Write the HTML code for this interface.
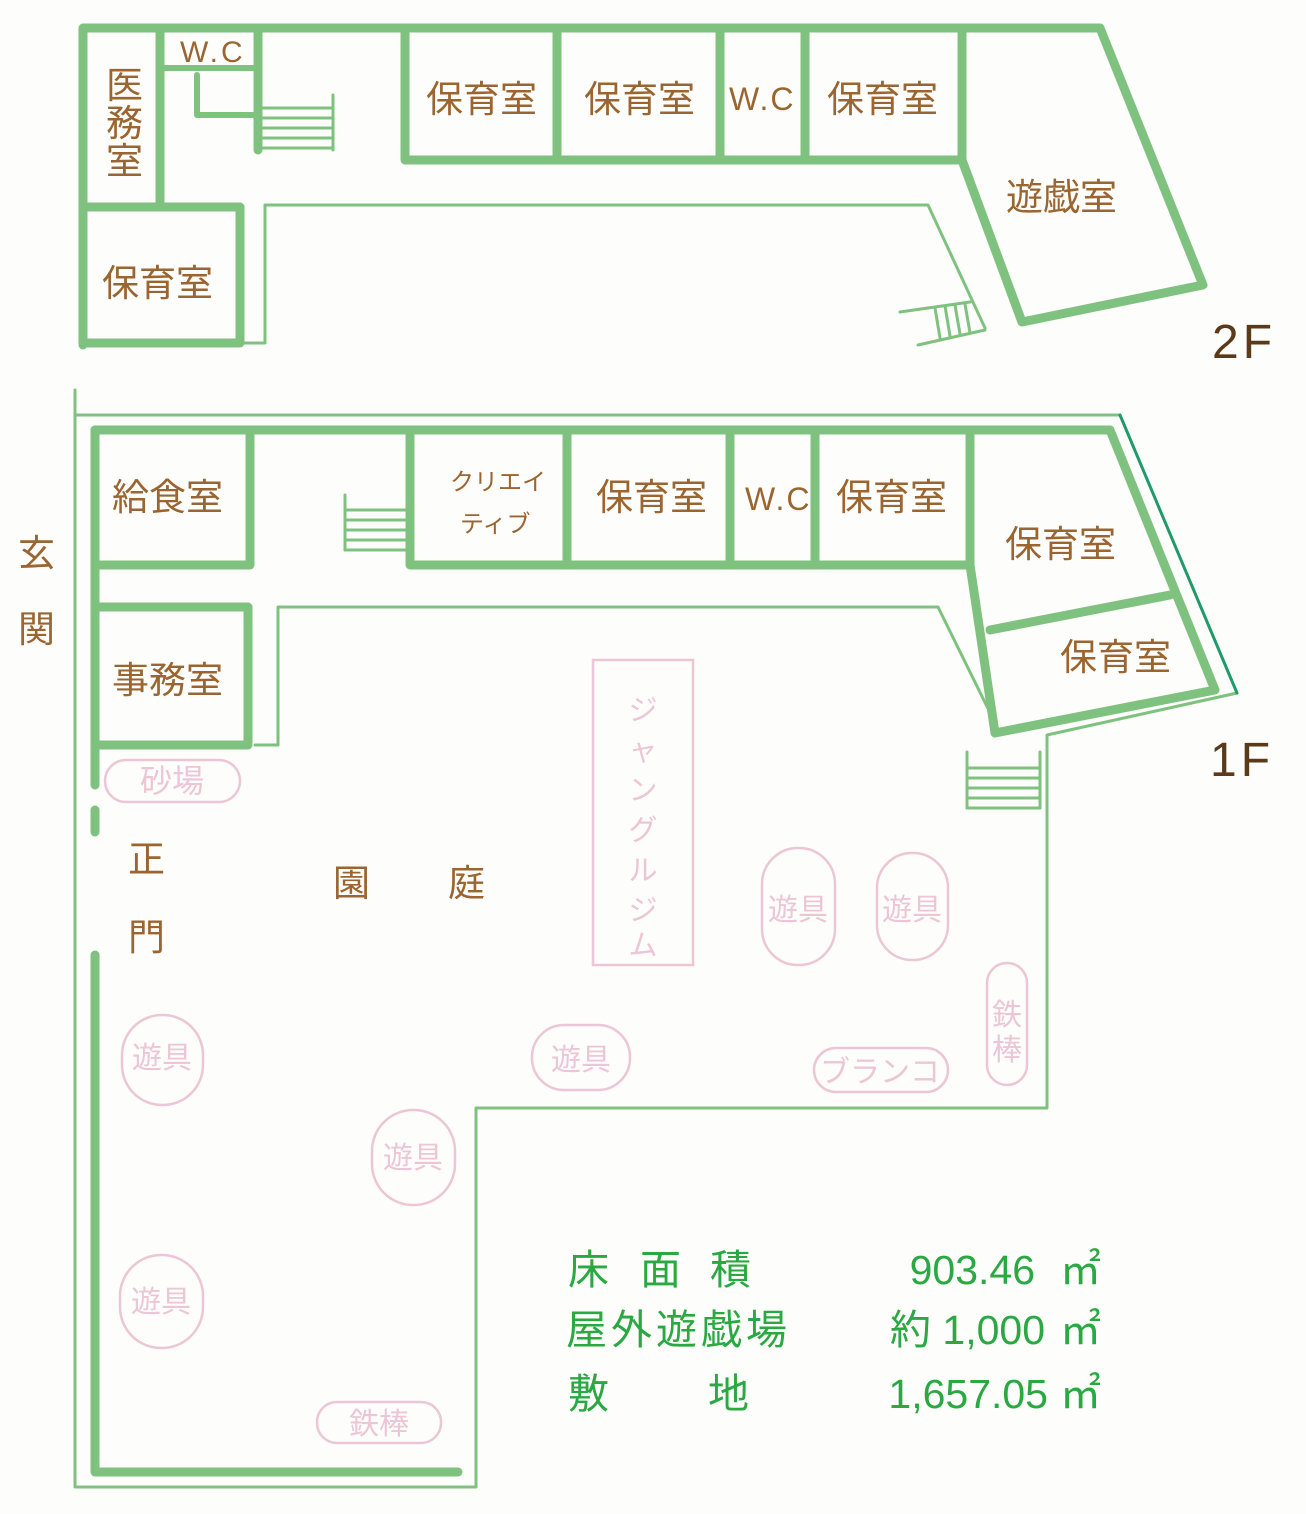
<!DOCTYPE html>
<html><head><meta charset="utf-8"><style>
html,body{margin:0;padding:0;background:#fdfdfb;}
svg{display:block}
text{font-family:"Liberation Sans","Noto Sans CJK JP",sans-serif;}
.b{fill:#9a6530;font-size:37px;}
.p{fill:#ecc6d6;font-size:30px;}
.g{fill:#2aa842;font-size:41px;}
</style></head><body>
<svg width="1306" height="1514" viewBox="0 0 1306 1514" xmlns="http://www.w3.org/2000/svg">
<g fill="none" stroke="#7fc27f" stroke-linecap="round" stroke-linejoin="round">
<g stroke-width="9">
<polyline points="83,345 83,28 1100,28 1203,285 1022,322 962,160 405,160 405,30"/>
<line x1="962" y1="30" x2="962" y2="160"/>
<line x1="557" y1="30" x2="557" y2="160"/>
<line x1="720" y1="30" x2="720" y2="160"/>
<line x1="805" y1="30" x2="805" y2="160"/>
<line x1="258" y1="28" x2="258" y2="150"/>
<polyline points="83,207 240,207 240,343 83,343"/>
<line x1="160" y1="30" x2="160" y2="205"/>
</g>
<g stroke-width="6">
<line x1="160" y1="68" x2="258" y2="68"/>
<polyline points="197,75 197,115 258,115"/>
</g>
<g stroke-width="3">
<line x1="258" y1="108" x2="333" y2="108"/><line x1="258" y1="118" x2="333" y2="118"/>
<line x1="258" y1="128" x2="333" y2="128"/><line x1="258" y1="138" x2="333" y2="138"/>
<line x1="258" y1="148" x2="333" y2="148"/><line x1="333" y1="95" x2="333" y2="150"/>
<polyline points="240,343 265,343 265,205 928,205 985,328"/>
<line x1="900" y1="312" x2="970" y2="302"/><line x1="918" y1="345" x2="985" y2="330"/>
<line x1="935" y1="308" x2="940" y2="338"/><line x1="945" y1="306" x2="950" y2="336"/>
<line x1="955" y1="305" x2="960" y2="334"/><line x1="965" y1="304" x2="970" y2="333"/>
</g>
<g stroke-width="3">
<polyline points="75,390 75,1487 476,1487 476,1108 1047,1108 1047,735 1237,693"/>
<line x1="75" y1="415" x2="1120" y2="415"/>
<line x1="345" y1="495" x2="345" y2="550"/>
<line x1="345" y1="510" x2="410" y2="510"/><line x1="345" y1="520" x2="410" y2="520"/>
<line x1="345" y1="530" x2="410" y2="530"/><line x1="345" y1="540" x2="410" y2="540"/>
<line x1="345" y1="550" x2="410" y2="550"/>
<polyline points="255,745 278,745 278,607 938,607 1000,733"/>
<line x1="967" y1="752" x2="967" y2="808"/><line x1="1040" y1="752" x2="1040" y2="808"/>
<line x1="967" y1="768" x2="1040" y2="768"/><line x1="967" y1="778" x2="1040" y2="778"/>
<line x1="967" y1="788" x2="1040" y2="788"/><line x1="967" y1="798" x2="1040" y2="798"/>
<line x1="967" y1="808" x2="1040" y2="808"/>
</g>
<line x1="1120" y1="415" x2="1237" y2="693" stroke="#1f9a6a" stroke-width="3"/>
<g stroke-width="9">
<polyline points="95,430 1110,430 1215,690 995,733 970,565 410,565 410,430"/>
<line x1="567" y1="430" x2="567" y2="565"/>
<line x1="730" y1="430" x2="730" y2="565"/>
<line x1="815" y1="430" x2="815" y2="565"/>
<line x1="970" y1="430" x2="970" y2="565"/>
<line x1="990" y1="630" x2="1170" y2="595"/>
<polyline points="95,785 95,430 250,430 250,565 95,565"/>
<polyline points="95,607 248,607 248,745 95,745"/>
<line x1="95" y1="810" x2="95" y2="832"/>
<polyline points="95,955 95,1472 458,1472"/>
</g>
</g>
<g fill="none" stroke="#ecc6d6" stroke-width="2.5">
<rect x="105" y="760" width="135" height="42" rx="21"/>
<rect x="593" y="660" width="100" height="305"/>
<rect x="762" y="848" width="73" height="117" rx="36"/>
<rect x="877" y="853" width="71" height="107" rx="35"/>
<rect x="122" y="1015" width="81" height="90" rx="40"/>
<rect x="532" y="1025" width="98" height="65" rx="32"/>
<rect x="372" y="1110" width="83" height="95" rx="41"/>
<rect x="120" y="1255" width="83" height="93" rx="41"/>
<rect x="987" y="963" width="40" height="122" rx="20"/>
<rect x="814" y="1048" width="134" height="44" rx="22"/>
<rect x="317" y="1402" width="124" height="41" rx="20"/>
</g>
<text class="p" x="172" y="792" text-anchor="middle" style="font-size:32px">砂場</text>
<g class="p" style="font-size:29px" text-anchor="middle">
<text x="643" y="720">ジ</text><text x="643" y="760">ャ</text><text x="643" y="800">ン</text><text x="643" y="840">グ</text><text x="643" y="880">ル</text><text x="643" y="920">ジ</text><text x="643" y="955">ム</text>
</g>
<g class="p" text-anchor="middle">
<text x="798" y="920">遊具</text><text x="912" y="920">遊具</text>
<text x="162" y="1068">遊具</text><text x="581" y="1070">遊具</text>
<text x="413" y="1168">遊具</text><text x="161" y="1312">遊具</text>
<text x="1007" y="1025">鉄</text><text x="1007" y="1060">棒</text>
<text x="880" y="1082">ブランコ</text><text x="379" y="1434">鉄棒</text>
</g>
<g class="b">
<text x="180" y="62" style="font-size:30px;letter-spacing:3px">W.C</text>
<text x="106" y="98">医</text><text x="106" y="136">務</text><text x="106" y="174">室</text>
<text x="102" y="296">保育室</text>
<text x="426" y="112">保育室</text><text x="584" y="112">保育室</text>
<text x="729" y="110" style="font-size:32px;letter-spacing:2px">W.C</text>
<text x="827" y="112">保育室</text>
<text x="1006" y="210">遊戯室</text>
<text x="1212" y="358" style="font-size:48px;fill:#5a3a18;letter-spacing:4px">2F</text>
<text x="112" y="510">給食室</text>
<text x="450" y="490" style="font-size:24px">クリエイ</text>
<text x="460" y="532" style="font-size:24px">ティブ</text>
<text x="596" y="510">保育室</text>
<text x="745" y="510" style="font-size:32px;letter-spacing:2px">W.C</text>
<text x="836" y="510">保育室</text>
<text x="1005" y="557">保育室</text>
<text x="1060" y="670">保育室</text>
<text x="112" y="693">事務室</text>
<text x="18" y="566">玄</text><text x="18" y="642">関</text>
<text x="128" y="872">正</text><text x="128" y="950">門</text>
<text x="333" y="896">園</text><text x="448" y="896">庭</text>
<text x="1210" y="776" style="font-size:48px;fill:#5a3a18;letter-spacing:4px">1F</text>
</g>
<g class="g">
<text x="568" y="1284">床</text><text x="640" y="1284">面</text><text x="710" y="1284">積</text>
<text x="1035" y="1284" text-anchor="end">903.46</text><text x="1060" y="1284">㎡</text>
<text x="566" y="1344" style="letter-spacing:4px">屋外遊戯場</text>
<text x="1045" y="1344" text-anchor="end">約 1,000</text><text x="1060" y="1344">㎡</text>
<text x="568" y="1408">敷</text><text x="708" y="1408">地</text>
<text x="1048" y="1408" text-anchor="end">1,657.05</text><text x="1060" y="1408">㎡</text>
</g>
</svg>
</body></html>
